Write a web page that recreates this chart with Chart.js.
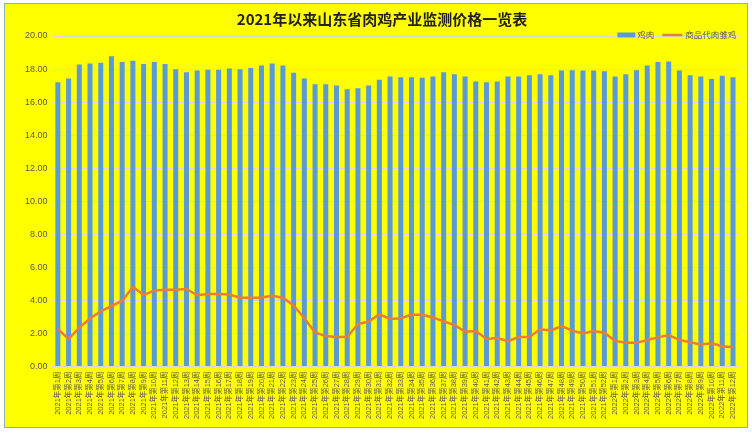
<!DOCTYPE html>
<html>
<head>
<meta charset="utf-8">
<script src="https://cdn.jsdelivr.net/npm/chart.js@4/dist/chart.umd.min.js"></script>
<style>
  body { margin: 0; background: #fff; }
  #wrap {
    position: absolute; left: 4px; top: 3px;
    width: 742px; height: 423px;
    border: 1px solid #8fb0b0; background: #ffff00;
  }
</style>
</head>
<body>
<div id="wrap"><canvas id="myChart"></canvas></div>
<script>
// weeks: 2021 wk1-52, 2022 wk1-12
const labels = [];
for (let w = 1; w <= 52; w++) labels.push('2021年第' + w + '周');
for (let w = 1; w <= 12; w++) labels.push('2022年第' + w + '周');

const chickenMeat = [
  17.20, 17.43, 18.28, 18.34, 18.38, 18.78, 18.42, 18.50, 18.30, 18.42,
  18.30, 17.99, 17.81, 17.91, 17.95, 17.95, 18.04, 17.99, 18.07, 18.22,
  18.34, 18.22, 17.77, 17.43, 17.08, 17.08, 17.00, 16.78, 16.84, 17.00,
  17.35, 17.55, 17.51, 17.51, 17.47, 17.55, 17.81, 17.69, 17.55, 17.25,
  17.20, 17.25, 17.55, 17.55, 17.63, 17.69, 17.63, 17.91, 17.93, 17.91,
  17.91, 17.87, 17.55, 17.69, 17.93, 18.22, 18.42, 18.46, 17.91, 17.63,
  17.55, 17.40, 17.59, 17.51
];

const chicks = [
  2.27, 1.66, 2.35, 2.90, 3.33, 3.65, 3.98, 4.81, 4.33, 4.59,
  4.65, 4.65, 4.69, 4.31, 4.39, 4.39, 4.35, 4.16, 4.16, 4.18,
  4.28, 4.16, 3.69, 2.92, 2.06, 1.84, 1.78, 1.78, 2.57, 2.72,
  3.16, 2.88, 2.92, 3.13, 3.13, 2.96, 2.73, 2.51, 2.10, 2.15,
  1.66, 1.72, 1.53, 1.78, 1.78, 2.25, 2.18, 2.45, 2.17, 2.00,
  2.15, 2.04, 1.55, 1.43, 1.43, 1.60, 1.76, 1.90, 1.61, 1.47,
  1.33, 1.41, 1.23, 1.17
];

const fontFamily = "'Liberation Sans', 'Noto Sans CJK SC', sans-serif";
const cjkFont = "'Noto Sans CJK SC', sans-serif";

// legend sits on the top edge of the plot, right aligned (like the Excel original)
const plotLegend = {
  id: 'plotLegend',
  afterDraw(chart) {
    const { ctx, chartArea } = chart;
    const [line, bar] = chart.data.datasets;
    const y = chartArea.top - 1;
    ctx.save();
    ctx.font = '8.5px ' + cjkFont;
    ctx.fillStyle = '#595959';
    ctx.textBaseline = 'middle';
    ctx.textAlign = 'right';

    let x = chartArea.right - 2;
    ctx.fillText(line.label, x, y);
    x -= ctx.measureText(line.label).width + 3;
    ctx.strokeStyle = line.borderColor;
    ctx.lineWidth = 2.5;
    ctx.beginPath();
    ctx.moveTo(x - 20, y);
    ctx.lineTo(x, y);
    ctx.stroke();
    x -= 20 + 8;

    ctx.fillStyle = '#595959';
    ctx.fillText(bar.label, x, y);
    x -= ctx.measureText(bar.label).width + 2;
    ctx.fillStyle = bar.backgroundColor;
    ctx.fillRect(x - 18, y - 2.5, 18, 5);
    ctx.restore();
  }
};

const config = {
  type: 'bar',
  data: {
    labels: labels,
    datasets: [
      {
        type: 'line',
        label: '商品代肉雏鸡',
        data: chicks,
        borderColor: '#ed7d31',
        backgroundColor: '#ed7d31',
        borderWidth: 2.5,
        pointRadius: 0,
        tension: 0,
        order: 0
      },
      {
        label: '鸡肉',
        data: chickenMeat,
        backgroundColor: '#5b9bd5',
        borderWidth: 0,
        categoryPercentage: 1,
        barPercentage: 0.47,
        order: 1
      }
    ]
  },
  options: {
    responsive: true,
    maintainAspectRatio: false,
    animation: false,
    layout: { padding: { left: 15, right: 3, top: 0, bottom: 3 } },
    plugins: {
      title: {
        display: true,
        text: '2021年以来山东省肉鸡产业监测价格一览表',
        color: '#222',
        font: { family: cjkFont, size: 15, weight: 'bold' },
        padding: { top: 6, bottom: 8 }
      },
      legend: { display: false },
      tooltip: { enabled: false }
    },
    scales: {
      x: {
        grid: { display: false, drawTicks: false },
        border: { color: '#d9d9d9' },
        ticks: {
          autoSkip: false,
          maxRotation: 90,
          minRotation: 90,
          color: '#595959',
          padding: 5,
          font: { family: fontFamily, size: 7.5 }
        }
      },
      y: {
        min: 0,
        max: 20,
        border: { display: false },
        grid: { color: '#d9d9d9', drawTicks: false },
        ticks: {
          stepSize: 2,
          color: '#595959',
          padding: 5,
          font: { family: fontFamily, size: 9 },
          callback: v => v.toFixed(2)
        }
      }
    }
  },
  plugins: [plotLegend]
};

const chart = new Chart(document.getElementById('myChart'), config);
</script>
</body>
</html>
